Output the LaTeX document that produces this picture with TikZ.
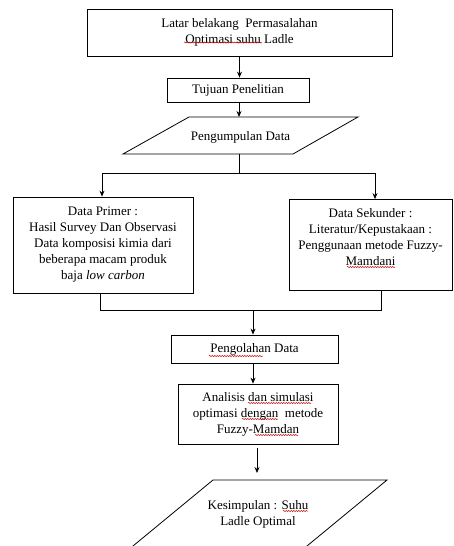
\documentclass[tikz,border=0pt]{standalone}
\usepackage{fontspec}
\newfontfamily\tnr{Liberation Serif}
\usetikzlibrary{arrows.meta,decorations.pathmorphing}
\begin{document}
\begin{tikzpicture}[x=1pt,y=-1pt,
  box/.style={draw, line width=0.8pt, align=center, inner sep=0pt, font=\tnr\fontsize{13}{16}\selectfont},
  txt/.style={align=center, inner sep=0pt, font=\tnr\fontsize{13}{16}\selectfont},
  arr/.style={-{Stealth[length=6pt,width=5pt]}, line width=0.8pt},
  ln/.style={line width=0.8pt},
  squig/.style={draw=red!75!black, line width=0.5pt, decorate, decoration={snake, amplitude=0.6pt, segment length=2.5pt}}]
\useasboundingbox (0,0) rectangle (453,546);
% boxes
\node[box, minimum width=305pt, minimum height=47pt] (top) at (239.5,32.5) {Latar belakang\ \ Permasalahan\\Optimasi suhu Ladle};
\node[box, minimum width=142pt, minimum height=24pt] (tuj) at (238,90) {Tujuan Penelitian};
% parallelogram 1
\coordinate (p1a) at (189,117);
\coordinate (p1b) at (358,117);
\coordinate (p1c) at (293,154);
\coordinate (p1d) at (123,154);
\draw[ln] (p1a) -- (p1b) -- (p1c) -- (p1d) -- cycle;
\node[txt] (peng) at (240.5,137) {Pengumpulan Data};
\coordinate (p1top) at (239,117);
\coordinate (p1bot) at (239,154);
\coordinate (split) at (239,173);
\coordinate (splitL) at (102,173);
\coordinate (splitR) at (375,173);
\node[box, minimum width=180pt, minimum height=96pt] (prim) at (103,245) {Data Primer :\\Hasil Survey Dan Observasi\\Data komposisi kimia dari\\beberapa macam produk\\baja \textit{low carbon}};
\node[box, minimum width=163pt, minimum height=91pt] (sek) at (370.5,245) {Data Sekunder :\\Literatur/Kepustakaan :\\Penggunaan metode Fuzzy-\\Mamdani\\\mbox{}};
\coordinate (joinL) at (100,310);
\coordinate (joinR) at (381,310);
\coordinate (joinM) at (253,310);
\node[box, minimum width=167pt, minimum height=28pt] (olah) at (254.5,349) {Pengolahan Data};
\node[box, minimum width=160pt, minimum height=60pt] (anal) at (258,414) {Analisis dan simulasi\\optimasi dengan\ \ metode\\Fuzzy-Mamdan};
% parallelogram 2
\coordinate (p2a) at (213,480);
\coordinate (p2b) at (387,480);
\coordinate (p2top) at (257,480);
\begin{scope}
\clip (0,0) rectangle (453,546);
\draw[ln] (116,560) -- (p2a) -- (p2b) -- (290,560) -- cycle;
\end{scope}
\node[txt] (kes) at (258,514.5) {Kesimpulan : Suhu\\Ladle Optimal};
% spelling squiggles
\draw[squig] (184,42.5) -- (262,42.5);
\draw[squig] (347,267) -- (395,267);
\draw[squig] (209,356) -- (263,356);
\draw[squig] (248,403) -- (311,403);
\draw[squig] (242,419) -- (278,419);
\draw[squig] (255,435) -- (298,435);
\draw[squig] (283,511) -- (308,511);
% connectors
\draw[arr] (top.south) -- (top.south |- tuj.north);
\draw[arr] (tuj.south -| p1top) -- (p1top);
\draw[ln] (p1bot) -- (split);
\draw[ln] (splitL) -- (splitR);
\draw[arr] (splitL) -- (splitL |- prim.north);
\draw[arr] (splitR) -- (splitR |- sek.north);
\draw[ln] (joinL |- prim.south) -- (joinL) -- (joinR) -- (joinR |- sek.south);
\draw[arr] (joinM) -- (joinM |- olah.north);
\draw[arr] (olah.south -| joinM) -- (joinM |- anal.north);
\draw[arr, shorten <=4pt, shorten >=7pt] (anal.south -| p2top) -- (p2top);
\end{tikzpicture}
\end{document}
